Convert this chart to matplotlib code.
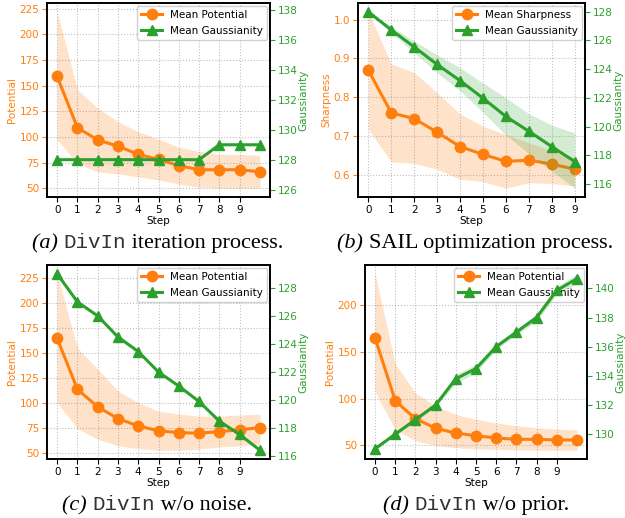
import numpy as np
import matplotlib
matplotlib.use("Agg")
import matplotlib.pyplot as plt
from matplotlib.ticker import MultipleLocator

ORANGE = "tab:orange"
GREEN = "tab:green"
FS = 7.5

# ---- data ----
steps_11 = list(range(11))
steps_10 = list(range(10))
tick_steps = list(range(10))

# (a) DivIn iteration process
pot_a = [159, 109, 97, 91, 83, 78, 72, 68, 68, 68, 66]
pot_a_lo = [97, 74, 66, 64, 61, 58, 54, 51, 50, 50, 50]
pot_a_hi = [222, 146, 128, 115, 105, 98, 90, 86, 83, 83, 82]
gau_a = [128, 128, 128, 128, 128, 128, 128, 128, 129, 129, 129]

# (b) SAIL optimization process
sharp_b = [0.87, 0.76, 0.745, 0.71, 0.673, 0.653, 0.635, 0.638, 0.628, 0.615]
sharp_b_lo = [0.718, 0.634, 0.630, 0.615, 0.589, 0.583, 0.566, 0.580, 0.578, 0.572]
sharp_b_hi = [1.02, 0.886, 0.864, 0.812, 0.757, 0.726, 0.704, 0.683, 0.662, 0.645]
gau_b = [128.0, 126.74, 125.55, 124.33, 123.2, 121.98, 120.7, 119.67, 118.6, 117.56]
gau_b_lo = [128.0, 126.55, 125.15, 123.75, 122.5, 121.0, 119.4, 118.1, 116.9, 115.7]
gau_b_hi = [128.0, 126.97, 125.97, 125.0, 124.1, 123.04, 122.0, 120.9, 120.1, 119.55]

# (c) DivIn w/o noise
pot_c = [164.6, 113.8, 96.2, 84.5, 77.2, 72.3, 70.6, 69.9, 71.6, 73.2, 75.6]
pot_c_lo = [100.5, 74.6, 64, 57.3, 54.6, 53, 53, 54, 56.3, 57.3, 59]
pot_c_hi = [229, 155, 134, 112, 100.5, 92, 89, 87, 87, 88, 89]
gau_c = [129.0, 127.0, 126.0, 124.5, 123.46, 122.0, 121.0, 119.9, 118.5, 117.55, 116.43]

# (d) DivIn w/o prior
pot_d = [164.6, 97.6, 78.5, 68.4, 63.2, 60.4, 58, 56.6, 56.6, 55.9, 55.9]
pot_d_lo = [107, 67, 55, 50, 47.6, 46.5, 45.8, 45.5, 45, 45, 45]
pot_d_hi = [233, 137, 106, 92, 83, 78, 74, 71, 69, 67.4, 66.7]
gau_d = [129.0, 130.0, 131.0, 132.0, 133.8, 134.5, 136.0, 137.0, 138.0, 139.86, 140.67]
gau_d_lo = [128.9, 129.9, 130.85, 131.85, 133.5, 134.2, 135.8, 136.8, 137.75, 139.6, 140.3]
gau_d_hi = [129.1, 130.1, 131.15, 132.15, 134.1, 134.8, 136.2, 137.2, 138.25, 140.1, 141.0]

W, H = 625, 518
fig = plt.figure(figsize=(W / 100, H / 100), dpi=100)


def px_axes(l, t, r, b):
    return fig.add_axes([l / W, 1 - b / H, (r - l) / W, (b - t) / H])


def panel(rect, x, left, left_lo, left_hi, left_name, right, right_lo=None,
          right_hi=None, right_ylim=None, left_label="Potential", left_step=None):
    ax = px_axes(*rect)
    ax.fill_between(x, left_lo, left_hi, color=ORANGE, alpha=0.22, lw=0)
    l1, = ax.plot(x, left, color=ORANGE, marker="o", lw=2.2, ms=7.5,
                  label=left_name)
    ax2 = ax.twinx()
    if right_lo is not None:
        ax2.fill_between(x, right_lo, right_hi, color=GREEN, alpha=0.2, lw=0)
    l2, = ax2.plot(x, right, color=GREEN, marker="^", lw=2.2, ms=7.5,
                   label="Mean Gaussianity")
    if right_ylim is not None:
        ax2.set_ylim(*right_ylim)
    if left_step is not None:
        ax.yaxis.set_major_locator(MultipleLocator(left_step))
    ax.set_xticks(tick_steps)
    ax.grid(True, linestyle=":", color="gray", alpha=0.5, lw=0.8)
    ax.set_xlabel("Step", fontsize=FS, labelpad=1)
    ax.set_ylabel(left_label, color=ORANGE, fontsize=FS, labelpad=2)
    ax2.set_ylabel("Gaussianity", color=GREEN, fontsize=FS, labelpad=0.5)
    ax.tick_params(axis="x", labelsize=FS, pad=2)
    ax.tick_params(axis="y", labelsize=FS, colors=ORANGE, pad=2)
    ax2.tick_params(axis="y", labelsize=FS, colors=GREEN, pad=2)
    for a in (ax, ax2):
        for s in a.spines.values():
            s.set_linewidth(1.2)
            s.set_color("black")
    ax.legend(handles=[l1, l2], loc="upper right", fontsize=FS,
              borderaxespad=0.25, framealpha=0.9, labelspacing=0.6)
    return ax, ax2


panel((47, 3, 270, 197), steps_11, pot_a, pot_a_lo, pot_a_hi, "Mean Potential",
      gau_a, right_ylim=(125.5, 138.5))
panel((358, 3, 585, 197), steps_10, sharp_b, sharp_b_lo, sharp_b_hi,
      "Mean Sharpness", gau_b, gau_b_lo, gau_b_hi, left_label="Sharpness")
panel((47, 265, 270, 459), steps_11, pot_c, pot_c_lo, pot_c_hi, "Mean Potential",
      gau_c)
panel((365, 265, 587, 459), steps_11, pot_d, pot_d_lo, pot_d_hi, "Mean Potential",
      gau_d, gau_d_lo, gau_d_hi, left_step=50)

# ---- captions: mixed serif / italic / monospace ----
CAP_FS = 16
serif = dict(family="Liberation Serif", fontsize=CAP_FS)
italic = dict(family="Liberation Serif", style="italic", fontsize=CAP_FS)
mono = dict(family="Liberation Mono", fontsize=CAP_FS - 1, color="#333333")

captions = [
    (158, 248, [("(a) ", italic), ("DivIn", mono), (" iteration process.", serif)]),
    (475, 248, [("(b) ", italic), ("SAIL optimization process.", serif)]),
    (157, 510, [("(c) ", italic), ("DivIn", mono), (" w/o noise.", serif)]),
    (476, 510, [("(d) ", italic), ("DivIn", mono), (" w/o prior.", serif)]),
]

renderer = fig.canvas.get_renderer()
for cx, base, parts in captions:
    texts = []
    for s, props in parts:
        t = fig.text(0, 1 - base / H, s, va="baseline", ha="left", **props)
        texts.append(t)
    widths = [t.get_window_extent(renderer).width for t in texts]
    x0 = cx - sum(widths) / 2
    for t, w in zip(texts, widths):
        t.set_x(x0 / W)
        x0 += w

fig.savefig("out.png", dpi=100)
plt.close(fig)
